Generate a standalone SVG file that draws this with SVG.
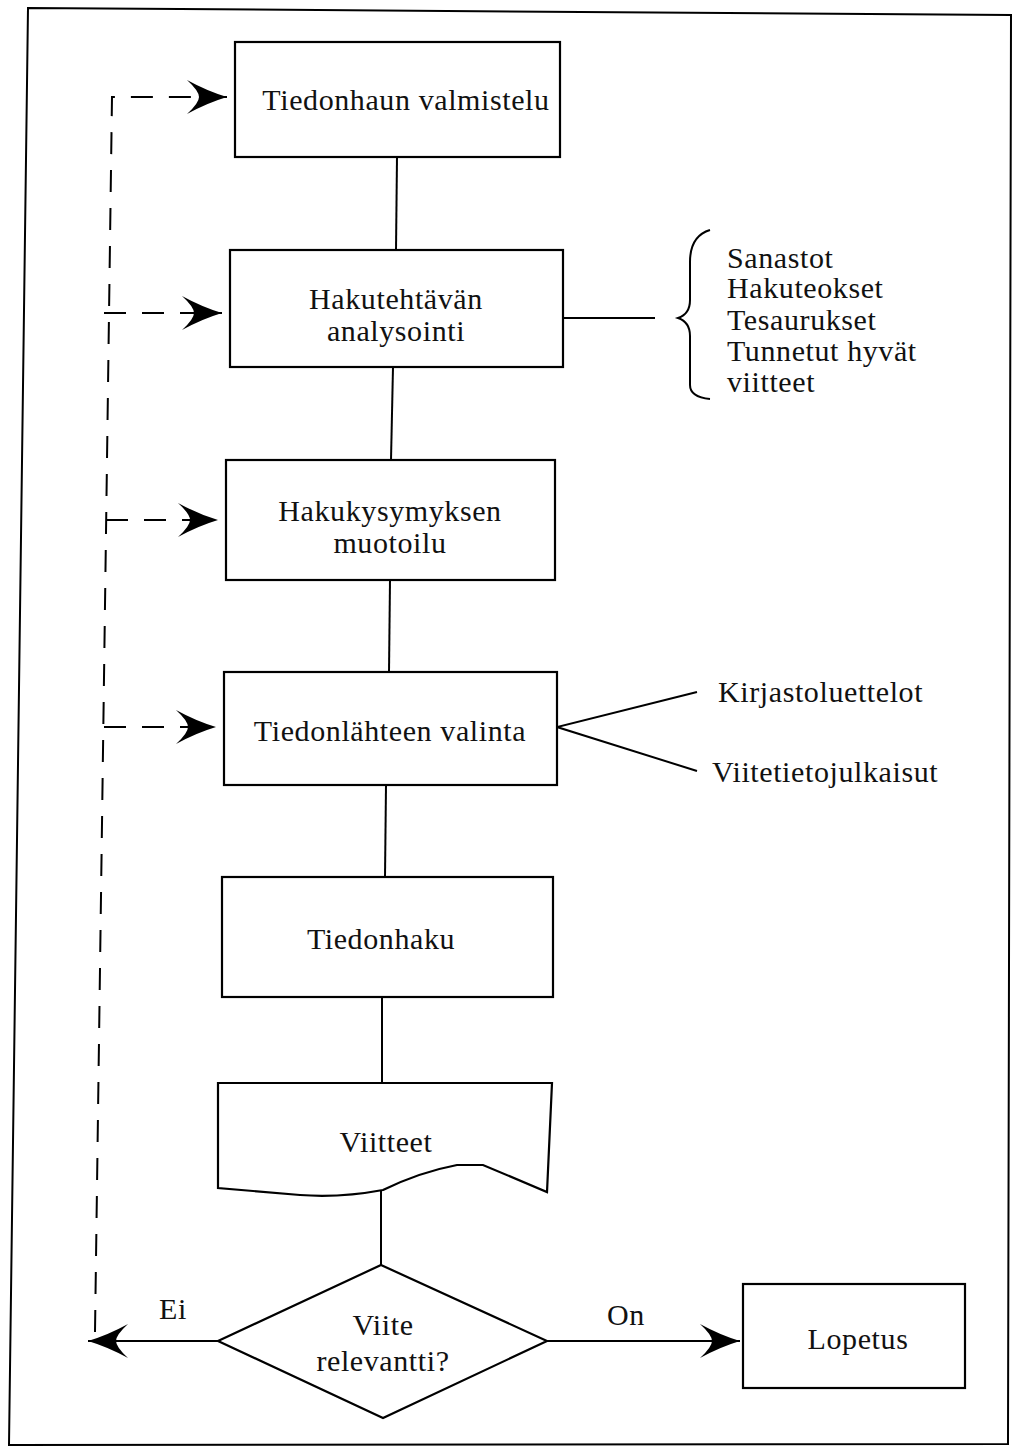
<svg xmlns="http://www.w3.org/2000/svg" width="1012" height="1448" viewBox="0 0 1012 1448">
  <style>
    .box { fill: #fff; stroke: #000; stroke-width: 2.2; }
    .line { fill: none; stroke: #000; stroke-width: 2; }
    .dash { fill: none; stroke: #000; stroke-width: 2; stroke-dasharray: 22 16; }
    .t { font-family: "Liberation Serif", "Times New Roman", serif; font-size: 30px; letter-spacing: 0.6px; fill: #111; }
    .c { text-anchor: middle; }
  </style>
  <defs>
    <marker id="barb" viewBox="-42 -18 44 36" markerUnits="userSpaceOnUse" markerWidth="44" markerHeight="36" refX="0" refY="0" orient="auto">
      <path d="M0,0 Q-20,-6 -40,-17 Q-28,-6 -28,0 Q-28,6 -40,17 Q-20,6 0,0 Z" fill="#000"/>
    </marker>
  </defs>

  <!-- outer frame -->
  <polygon points="28,8 1011,15 1008,1444 9,1445" fill="none" stroke="#000" stroke-width="2"/>

  <!-- connectors -->
  <g id="connectors">
    <line class="line" x1="397" y1="157" x2="396" y2="250"/>
    <line class="line" x1="393" y1="367" x2="391" y2="460"/>
    <line class="line" x1="390" y1="580" x2="389" y2="672"/>
    <line class="line" x1="386" y1="785" x2="385" y2="877"/>
    <line class="line" x1="382" y1="997" x2="382" y2="1083"/>
    <line class="line" x1="381" y1="1191" x2="381" y2="1265"/>
    <!-- analysis side note -->
    <line class="line" x1="563" y1="318" x2="655" y2="318"/>
    <!-- source selection fork -->
    <polyline class="line" points="697,692 557,727 697,771"/>
    <!-- decision outcomes -->
    <line class="line" x1="218" y1="1341" x2="88" y2="1341" marker-end="url(#barb)"/>
    <line class="line" x1="547" y1="1341" x2="740" y2="1341" marker-end="url(#barb)"/>
    <!-- feedback loop -->
    <path class="dash" d="M95,1332 L112,97 L227,97" marker-end="url(#barb)"/>
    <line class="dash" x1="104" y1="313" x2="222" y2="313" marker-end="url(#barb)"/>
    <line class="dash" x1="106" y1="520" x2="218" y2="520" marker-end="url(#barb)"/>
    <line class="dash" x1="104" y1="727" x2="216" y2="727" marker-end="url(#barb)"/>
  </g>

  <g id="n1">
    <rect class="box" x="235" y="42" width="325" height="115"/>
    <text class="t c" x="406" y="110">Tiedonhaun valmistelu</text>
  </g>

  <g id="n2">
    <rect class="box" x="230" y="250" width="333" height="117"/>
    <text class="t c" x="396" y="309">Hakutehtävän</text>
    <text class="t c" x="396" y="341">analysointi</text>
  </g>

  <g id="n2-notes">
    <path class="line" d="M710,230 Q690,236 690,262 L690,300 Q690,314 678,318 Q690,322 690,336 L690,385 Q690,397 710,399"/>
    <text class="t" x="727" y="268">Sanastot</text>
    <text class="t" x="727" y="298">Hakuteokset</text>
    <text class="t" x="727" y="330">Tesaurukset</text>
    <text class="t" x="727" y="361">Tunnetut hyvät</text>
    <text class="t" x="727" y="392">viitteet</text>
  </g>

  <g id="n3">
    <rect class="box" x="226" y="460" width="329" height="120"/>
    <text class="t c" x="390" y="521">Hakukysymyksen</text>
    <text class="t c" x="390" y="553">muotoilu</text>
  </g>

  <g id="n4">
    <rect class="box" x="224" y="672" width="333" height="113"/>
    <text class="t c" x="390" y="741">Tiedonlähteen valinta</text>
  </g>

  <g id="n4-sources">
    <text class="t" x="718" y="702">Kirjastoluettelot</text>
    <text class="t" x="712" y="782">Viitetietojulkaisut</text>
  </g>

  <g id="n5">
    <rect class="box" x="222" y="877" width="331" height="120"/>
    <text class="t c" x="381" y="949">Tiedonhaku</text>
  </g>

  <g id="n6">
    <path class="box" d="M218,1083 L552,1083 L547,1192 L483,1165 L457,1165 Q420,1172 383,1190 Q340,1198 300,1195 L218,1188 Z"/>
    <text class="t c" x="386" y="1152">Viitteet</text>
  </g>

  <g id="n7">
    <polygon class="box" points="381,1265 547,1341 383,1418 218,1341"/>
    <text class="t c" x="383" y="1335">Viite</text>
    <text class="t c" x="383" y="1371">relevantti?</text>
  </g>

  <g id="n8">
    <rect class="box" x="743" y="1284" width="222" height="104"/>
    <text class="t c" x="858" y="1349">Lopetus</text>
  </g>

  <g id="edge-labels">
    <text class="t c" x="173" y="1319">Ei</text>
    <text class="t c" x="626" y="1325">On</text>
  </g>
</svg>
